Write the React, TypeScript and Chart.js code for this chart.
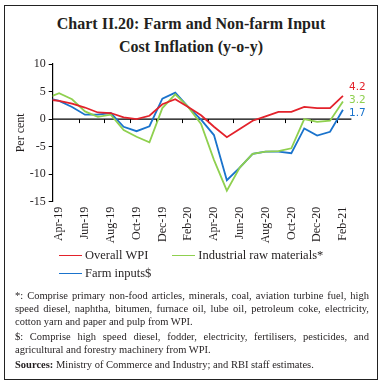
import React, { useEffect, useRef } from "react";
import { Chart, registerables } from "chart.js";
Chart.register(...registerables);

// Months (first entry is a lead-in month, clipped at the y axis)
const months = [
  "Mar-19", "Apr-19", "May-19", "Jun-19", "Jul-19", "Aug-19", "Sep-19", "Oct-19", "Nov-19",
  "Dec-19", "Jan-20", "Feb-20", "Mar-20", "Apr-20", "May-20", "Jun-20", "Jul-20", "Aug-20",
  "Sep-20", "Oct-20", "Nov-20", "Dec-20", "Jan-21", "Feb-21",
];
const overallWpi = [3.6, 3.3, 2.8, 2.1, 1.2, 1.1, 0.3, 0.0, 0.6, 2.7, 3.6, 2.2, 0.7, -1.4, -3.3, -1.8, -0.3, 0.5, 1.3, 1.3, 2.2, 2.0, 2.0, 4.2];
const industrialRaw = [3.8, 4.7, 3.6, 1.4, 0.4, 0.8, -2.0, -3.2, -4.2, 2.0, 4.5, 2.2, -0.9, -7.4, -13.0, -8.8, -6.3, -5.9, -5.8, -5.3, 0.0, -0.5, -0.3, 3.2];
const farmInputs = [3.9, 3.3, 2.2, 0.8, 0.8, 1.1, -1.4, -2.2, -1.3, 3.7, 4.8, 2.2, -0.1, -2.9, -11.1, -8.8, -6.3, -5.9, -5.9, -6.2, -1.7, -3.0, -2.3, 1.7];
const seriesNames = ["Overall WPI", "Industrial raw materials*", "Farm inputs$"];
const seriesColors = ["#e3222b", "#8fd04f", "#1a73cc"];
const legendRows = [[0, 1], [2]];
const yTicks = [-15, -10, -5, 0, 5, 10];
const labelTickIdx = [1, 3, 5, 7, 9, 11, 13, 15, 17, 19, 21, 23];
const markTickIdx = [2.5, 4.5, 6.5, 8.5, 10.5, 12.5, 14.5, 16.5, 18.5, 20.5, 22.5];

const titleLines = ["Chart II.20: Farm and Non-farm Input", "Cost Inflation (y-o-y)"];
const noteParas = [
  [
    "*: Comprise primary non-food articles, minerals, coal, aviation turbine fuel, high",
    "speed diesel, naphtha, bitumen, furnace oil, lube oil, petroleum coke, electricity,",
    "cotton yarn and paper and pulp from WPI.",
  ],
  [
    "$: Comprise high speed diesel, fodder, electricity, fertilisers, pesticides, and",
    "agricultural and forestry machinery from WPI.",
  ],
];

const SERIF = "'Liberation Serif', 'Times New Roman', serif";
const TEXT = "#231f20";

const zeroAxisPlugin = {
  id: "zeroAxis",
  beforeDatasetsDraw(chart: any) {
    const { ctx, chartArea, scales } = chart;
    const y0 = scales.y.getPixelForValue(0);
    ctx.save();
    ctx.strokeStyle = "#000";
    ctx.lineWidth = 1.2;
    ctx.beginPath();
    ctx.moveTo(chartArea.left, y0);
    ctx.lineTo(chartArea.right + 2, y0);
    ctx.stroke();
    ctx.lineWidth = 1;
    for (const v of markTickIdx) {
      const x = Math.round(scales.x.getPixelForValue(v)) + 0.5;
      ctx.beginPath();
      ctx.moveTo(x, y0);
      ctx.lineTo(x, y0 + 4);
      ctx.stroke();
    }
    ctx.restore();
  },
};

const endLabelPlugin = {
  id: "endLabels",
  afterDatasetsDraw(chart: any) {
    const { ctx, scales } = chart;
    const items = chart.data.datasets.map((ds: any, i: number) => {
      const last = ds.data[ds.data.length - 1];
      return {
        x: scales.x.getPixelForValue(last.x) + 6,
        y: scales.y.getPixelForValue(last.y),
        text: last.y.toFixed(1),
        color: seriesColors[i],
      };
    });
    items.sort((a: any, b: any) => a.y - b.y);
    const gap = 13;
    const mean = items.reduce((s: number, it: any) => s + it.y, 0) / items.length;
    const start = mean - (gap * (items.length - 1)) / 2 - 2;
    items.forEach((it: any, k: number) => {
      it.y = start + k * gap;
    });
    ctx.save();
    ctx.font = "10.5px 'DejaVu Sans', sans-serif";
    ctx.textBaseline = "middle";
    ctx.textAlign = "left";
    for (const it of items) {
      ctx.fillStyle = it.color;
      ctx.fillText(it.text, it.x, it.y);
    }
    ctx.restore();
  },
};

function ChartCanvas() {
  const ref = useRef<HTMLCanvasElement>(null);
  useEffect(() => {
    const series = [overallWpi, industrialRaw, farmInputs];
    const chart = new Chart(ref.current!, {
      type: "line",
      data: {
        datasets: series.map((vals, i) => ({
          label: seriesNames[i],
          data: vals.map((v, k) => ({ x: k, y: v })),
          borderColor: seriesColors[i],
          backgroundColor: seriesColors[i],
          borderWidth: 1.8,
          pointRadius: 0,
          tension: 0,
          fill: false,
        })),
      },
      options: {
        animation: false,
        responsive: false,
        devicePixelRatio: 1,
        layout: { padding: { top: 14, right: 33.6, left: 0, bottom: 0 } },
        plugins: { legend: { display: false }, tooltip: { enabled: false } },
        scales: {
          x: {
            type: "linear",
            min: 0.5,
            max: 23.5,
            afterFit: (s: any) => {
              s.height = 48.3;
            },
            afterBuildTicks: (s: any) => {
              s.ticks = labelTickIdx.map((v) => ({ value: v }));
            },
            grid: { display: false, drawTicks: false },
            border: { display: false },
            ticks: {
              autoSkip: false,
              maxRotation: 90,
              minRotation: 90,
              padding: 5,
              color: TEXT,
              font: { family: SERIF, size: 12 },
              callback: (v: any) => months[v] ?? "",
            },
          },
          y: {
            min: -15,
            max: 10,
            afterFit: (s: any) => {
              s.width = 52.7;
            },
            afterBuildTicks: (s: any) => {
              s.ticks = yTicks.map((v) => ({ value: v }));
            },
            grid: { drawOnChartArea: false, color: "#000", tickLength: 4, lineWidth: 1 },
            border: { display: true, color: "#000", width: 1.2 },
            ticks: {
              padding: 3,
              color: TEXT,
              font: { family: SERIF, size: 12 },
            },
            title: {
              display: true,
              text: "Per cent",
              color: TEXT,
              font: { family: SERIF, size: 12 },
              padding: { top: 14, bottom: 0 },
            },
          },
        },
      },
      plugins: [zeroAxisPlugin, endLabelPlugin],
    } as any);
    return () => chart.destroy();
  }, []);
  return (
    <canvas
      ref={ref}
      width={383}
      height={200}
      style={{ position: "absolute", left: 0, top: 50, width: 383, height: 200 }}
    />
  );
}

export default function App() {
  return (
    <div style={{ position: "fixed", left: 0, top: 0, width: 383, height: 386, background: "#fff", overflow: "hidden" }}>
      <div
        style={{
          position: "absolute",
          left: 4,
          top: 5,
          width: 374,
          height: 375,
          boxSizing: "border-box",
          border: "1.5px solid #222",
        }}
      />
      <div
        style={{
          position: "absolute",
          left: 4,
          top: 12,
          width: 374,
          textAlign: "center",
          fontFamily: SERIF,
          fontWeight: "bold",
          fontSize: 16,
          lineHeight: "23px",
          color: TEXT,
        }}
      >
        {titleLines.map((t) => (
          <div key={t}>{t}</div>
        ))}
      </div>
      <ChartCanvas />
      <div
        style={{
          position: "absolute",
          left: 59,
          top: 246,
          width: 310,
          fontFamily: SERIF,
          fontSize: 12.5,
          color: TEXT,
        }}
      >
        {legendRows.map((row, ri) => (
          <div key={ri} style={{ display: "flex", height: 18, columnGap: 24 }}>
            {row.map((i) => (
              <div key={i} style={{ display: "flex", alignItems: "center", height: 18 }}>
                <span style={{ display: "inline-block", width: 23, height: 1, background: seriesColors[i], marginRight: 3 }} />
                <span>{seriesNames[i]}</span>
              </div>
            ))}
          </div>
        ))}
      </div>
      <div
        style={{
          position: "absolute",
          left: 15,
          top: 289,
          width: 354,
          fontFamily: SERIF,
          fontSize: 10.5,
          lineHeight: "13px",
          color: TEXT,
        }}
      >
        {noteParas.map((p, pi) => (
          <div key={pi} style={{ marginBottom: 2 }}>
            {p.map((line, li) => (
              <div
                key={li}
                style={{
                  textAlign: "justify",
                  textAlignLast: li < p.length - 1 ? "justify" : "left",
                  whiteSpace: "nowrap",
                }}
              >
                {line}
              </div>
            ))}
          </div>
        ))}
        <div>
          <b>Sources:</b> Ministry of Commerce and Industry; and RBI staff estimates.
        </div>
      </div>
    </div>
  );
}
